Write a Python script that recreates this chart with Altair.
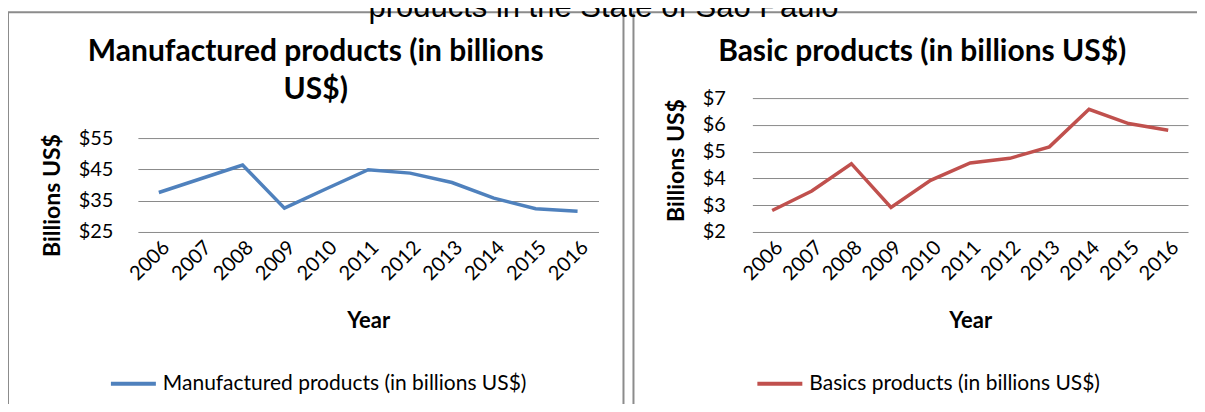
import altair as alt
import pandas as pd

years = ["2006", "2007", "2008", "2009", "2010", "2011", "2012", "2013", "2014", "2015", "2016"]
manufactured = [37.6, 42.0, 46.4, 32.6, 38.8, 44.9, 43.8, 40.8, 35.8, 32.4, 31.6]
basic = [2.80, 3.53, 4.55, 2.92, 3.93, 4.58, 4.75, 5.18, 6.58, 6.05, 5.80]

man_name = "Manufactured products (in billions US$)"
bas_name = "Basics products (in billions US$)"
man_title = ["Manufactured products (in billions", "US$)"]
bas_title = ["Basic products (in billions US$)"]
top_title = "products in the State of São Paulo"
man_ticks = [25, 35, 45, 55]
bas_ticks = [2, 3, 4, 5, 6, 7]

FONT = "Lato"
GRID = "#8a8a8a"
BOX = "#8c8c8c"
H = 134

man_df = pd.DataFrame({"year": years, "value": manufactured, "series": man_name})
bas_df = pd.DataFrame({"year": years, "value": basic, "series": bas_name})
one_df = pd.DataFrame({"k": [0]})


def panel(df, name, color, ticks, w, yrange, title_lines, title_xy, box, ytitle_x, ytitle_y,
          lab_pad, leg_x, leg_y):
    bx1, bx2, by1, by2 = box
    frame = alt.Chart(one_df).mark_rect(fill="transparent", stroke=BOX, strokeWidth=2).encode(
        x=alt.value(bx1), x2=alt.value(bx2), y=alt.value(by1), y2=alt.value(by2)
    )
    head = alt.Chart(one_df).mark_text(
        text=title_lines, font=FONT, fontSize=30, fontWeight="bold", align="center",
        baseline="alphabetic", lineHeight=38, color="black"
    ).encode(x=alt.value(title_xy[0]), y=alt.value(title_xy[1]))
    line = alt.Chart(df).mark_line(strokeWidth=3.5).encode(
        x=alt.X("year:O", title="Year",
                axis=alt.Axis(labelAngle=-45, grid=False, labelPadding=5,
                              titleX=w / 2, titleY=89, titleBaseline="middle",
                              titleAlign="center", titleFontSize=22)),
        y=alt.Y("value:Q", title="Billions US$",
                scale=alt.Scale(domain=[ticks[0], ticks[-1]], nice=False, zero=False,
                                range=yrange),
                axis=alt.Axis(values=ticks, grid=True, labelExpr="'$' + datum.value",
                              labelPadding=lab_pad, titleX=ytitle_x, titleY=ytitle_y,
                              titleAngle=270, titleAlign="center", titleBaseline="middle",
                              titleFontSize=23)),
        color=alt.Color("series:N", scale=alt.Scale(domain=[name], range=[color]),
                        legend=alt.Legend(orient="none", legendX=leg_x, legendY=leg_y,
                                          title=None, symbolType="stroke", symbolSize=2025,
                                          symbolStrokeWidth=4, labelFont=FONT,
                                          labelFontSize=21, labelOffset=5, labelLimit=0,
                                          labelColor="black")),
    )
    return alt.layer(frame, head, line).properties(width=w, height=H)


left = panel(man_df, man_name, "#4F81BD", man_ticks, 461, [H, 40], man_title, (178, -37),
             (-130, 486, -86, 312), -85, 97, 25, -29, 261.5)
right = panel(bas_df, bas_name, "#C0504D", bas_ticks, 436, [H, 0], bas_title, (170, -37),
              (-119, 455, -86, 312), -76, 62, 27, 3, 261.5)

chart = alt.hconcat(left, right, spacing=8, bounds="full").resolve_scale(
    x="independent", y="independent", color="independent"
).resolve_legend(color="independent").properties(
    title=alt.TitleParams(top_title, font="Liberation Sans", fontSize=31,
                          fontWeight="normal", anchor="middle", dx=-4, offset=-13,
                          color="black"),
    padding={"left": -1, "top": -16, "right": -11, "bottom": -7},
).configure_view(stroke=None).configure_axis(
    labelFont=FONT, labelFontSize=20, labelColor="black", titleFont=FONT,
    titleFontWeight="bold", titleColor="black", domain=False,
    ticks=False, tickSize=0, gridColor=GRID, gridWidth=1
)

chart.save("out.html", embed_options={"renderer": "svg", "actions": False})
